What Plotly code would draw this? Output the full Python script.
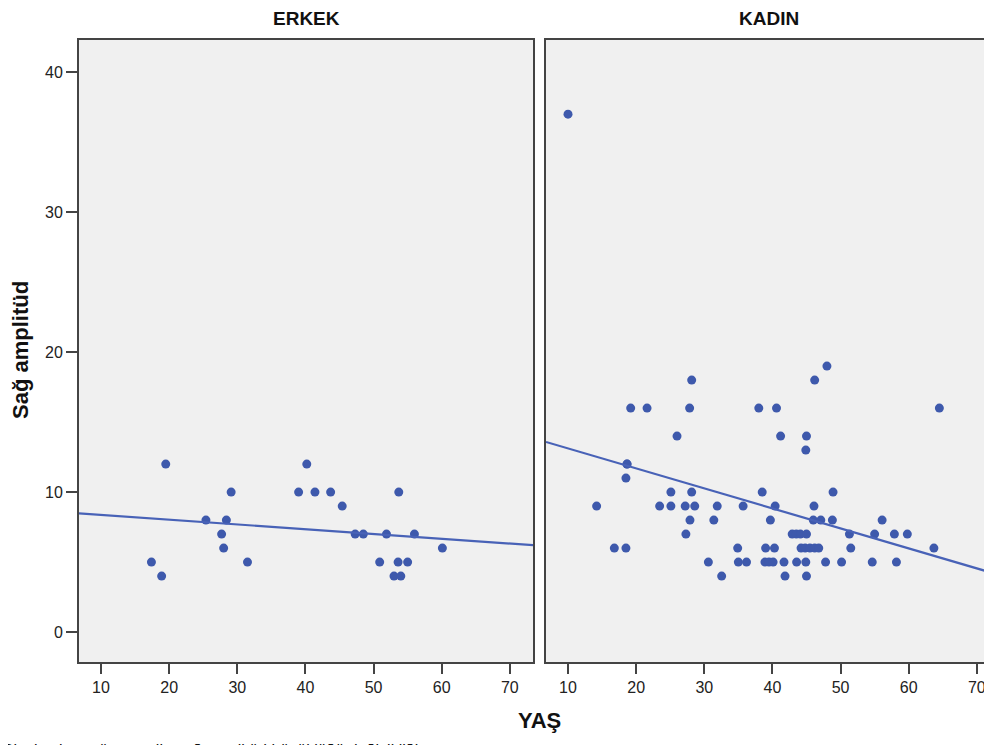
import numpy as np
import plotly.graph_objects as go

# ---------------- data ----------------
panels = ["ERKEK", "KADIN"]

erkek_yas = [19.5, 17.4, 18.9, 25.4, 28.4, 29.1, 27.7, 28.0, 31.5, 39.0,
             40.2, 41.4, 43.7, 45.4, 47.3, 48.5, 51.9, 50.9, 53.7, 53.6,
             55.0, 53.0, 54.0, 56.0, 60.1]
erkek_amp = [12, 5, 4, 8, 8, 10, 7, 6, 5, 10,
             12, 10, 10, 9, 7, 7, 7, 5, 10, 5,
             5, 4, 4, 7, 6]

kadin_yas = [10.0,
             48.0,
             28.15, 46.2,
             19.2, 21.6, 27.85, 38.0, 40.6, 64.5,
             26.0, 41.2, 45.0,
             44.9,
             18.66, 18.66,
             18.5,
             25.1, 28.15, 38.5, 48.9,
             14.2, 23.45, 25.1, 27.2, 28.6, 31.9, 35.7, 40.4, 46.1,
             27.9, 31.4, 39.7, 46.0, 47.1, 48.8, 56.1,
             27.3, 42.9, 43.5, 44.1, 45.0, 51.3, 55.0, 57.9, 59.8,
             16.8, 18.5, 34.9, 39.0, 40.3, 44.2, 44.8, 45.5, 46.2, 46.8, 51.5, 63.7,
             30.6, 35.0, 36.2, 38.9, 39.5, 40.1, 41.7, 43.55, 44.9, 47.8, 50.15, 54.65, 58.2,
             32.55, 41.85, 45.0]
kadin_amp = [37,
             19,
             18, 18,
             16, 16, 16, 16, 16, 16,
             14, 14, 14,
             13,
             12, 12,
             11,
             10, 10, 10, 10,
             9, 9, 9, 9, 9, 9, 9, 9, 9,
             8, 8, 8, 8, 8, 8, 8,
             7, 7, 7, 7, 7, 7, 7, 7, 7,
             6, 6, 6, 6, 6, 6, 6, 6, 6, 6, 6, 6,
             5, 5, 5, 5, 5, 5, 5, 5, 5, 5, 5, 5, 5,
             4, 4, 4]

x_ticks = [10, 20, 30, 40, 50, 60, 70]
y_ticks = [0, 10, 20, 30, 40]

x_title = "YAŞ"
y_title = "Sağ amplitüd"
caption = "Cinsiyetlere göre yaş ile sağ amplitüd büyüklüğü değişikliği"

# ---------------- styling ----------------
# the page body has an 8px margin, so the figure is sized to the visible part
W, H = 984, 737
MARK = "#3E59AC"
LINE = "#4862B7"
FRAME = "#444444"
PLOTBG = "#F0F0F0"
FONT = "Liberation Sans, Arial, sans-serif"

# pixel layout of the two panels (figure coordinates)
py_top, py_bot = 32, 654
left_px = (71, 525)
right_px = (538, 984)
px_per_unit = 454 / 66.63
x_lo = 6.77
x_range_left = [x_lo, x_lo + (left_px[1] - left_px[0]) / px_per_unit]
x_range_right = [x_lo, x_lo + (right_px[1] - right_px[0]) / px_per_unit]
y_range = [-2.14, 42.3]

ydom = [1 - py_bot / H, 1 - py_top / H]

fig = go.Figure()

data = [(erkek_yas, erkek_amp, "x", "y", x_range_left),
        (kadin_yas, kadin_amp, "x2", "y2", x_range_right)]

for xs, ys, xa, ya, xr in data:
    fig.add_trace(go.Scatter(
        x=xs, y=ys, mode="markers", xaxis=xa, yaxis=ya,
        marker=dict(color=MARK, size=9, line=dict(width=0)),
        showlegend=False, hoverinfo="x+y"))
    slope, intercept = np.polyfit(np.array(xs, float), np.array(ys, float), 1)
    lx = np.array(xr)
    fig.add_trace(go.Scatter(
        x=lx, y=intercept + slope * lx, mode="lines", xaxis=xa, yaxis=ya,
        line=dict(color=LINE, width=2.2), showlegend=False, hoverinfo="skip"))

tickfont = dict(family=FONT, size=16, color="#222222")

common_x = dict(tickmode="array", tickvals=x_ticks, ticks="outside", ticklen=10,
                tickwidth=2, tickcolor=FRAME, tickfont=tickfont, showgrid=False,
                zeroline=False, showline=True, linecolor=FRAME, linewidth=2,
                mirror=True, fixedrange=True)

fig.update_layout(
    width=W, height=H,
    margin=dict(l=0, r=0, t=0, b=0),
    paper_bgcolor="white",
    plot_bgcolor=PLOTBG,
    xaxis=dict(domain=[left_px[0] / W, left_px[1] / W], range=x_range_left, **common_x),
    xaxis2=dict(domain=[right_px[0] / W, right_px[1] / W], range=x_range_right, **common_x),
    yaxis=dict(domain=ydom, range=y_range, tickmode="array", tickvals=y_ticks,
               ticks="outside", ticklen=11, tickwidth=2, tickcolor=FRAME,
               tickfont=tickfont, showgrid=False, zeroline=False, showline=True,
               linecolor=FRAME, linewidth=2, mirror=True, anchor="x"),
    yaxis2=dict(domain=ydom, range=y_range, showticklabels=False, ticks="",
                showgrid=False, zeroline=False, showline=True, linecolor=FRAME,
                linewidth=2, mirror=False, anchor="x2"),
)

title_x = [298, 761]
ann = []
for name, tx in zip(panels, title_x):
    ann.append(dict(text=f"<b>{name}</b>", x=tx / W, y=1 - 10 / H,
                    xref="paper", yref="paper", xanchor="center", yanchor="middle",
                    showarrow=False, font=dict(family=FONT, size=19, color="#111111")))
ann.append(dict(text=f"<b>{x_title}</b>", x=531 / W, y=1 - 712 / H, xref="paper",
                yref="paper", xanchor="center", yanchor="middle", showarrow=False,
                font=dict(family=FONT, size=22, color="#111111")))
ann.append(dict(text=f"<b>{y_title}</b>", x=12 / W, y=1 - 342 / H, xref="paper",
                yref="paper", xanchor="center", yanchor="middle", showarrow=False,
                textangle=-90, font=dict(family=FONT, size=22, color="#111111")))
ann.append(dict(text=caption, x=-8 / W, y=1 - 742 / H, xref="paper",
                yref="paper", xanchor="left", yanchor="middle", showarrow=False,
                font=dict(family=FONT, size=16, color="#111111")))
fig.update_layout(annotations=ann)

fig.write_html("out.html")
